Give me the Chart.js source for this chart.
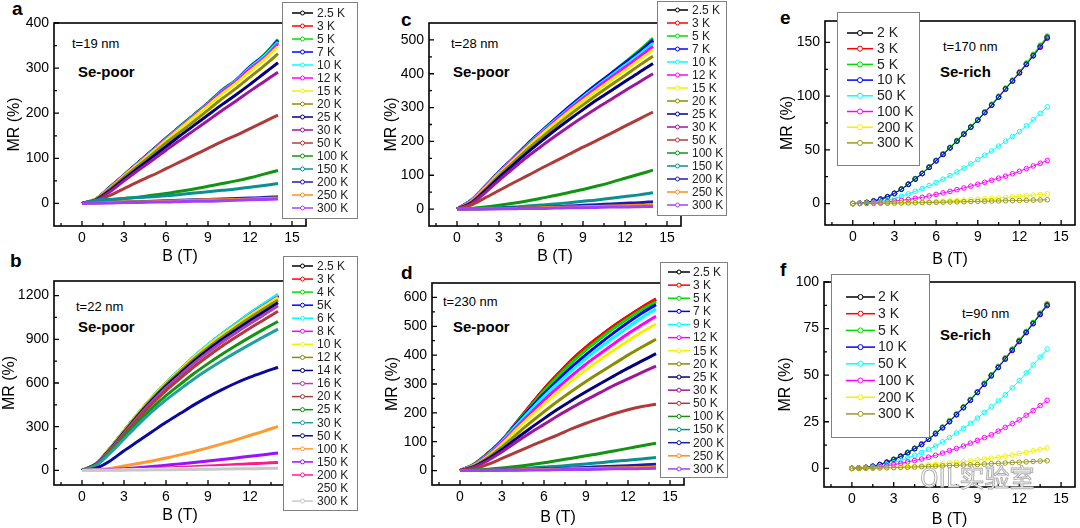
<!DOCTYPE html>
<html><head><meta charset="utf-8">
<script src="https://cdn.jsdelivr.net/npm/chart.js@4.4.1/dist/chart.umd.min.js"></script>
<style>
html,body{margin:0;padding:0;background:#fff;}
body{width:1080px;height:528px;overflow:hidden;position:relative;font-family:'Liberation Sans',Arial,sans-serif;}
canvas{position:absolute;}
.tx{position:absolute;line-height:1;transform:translateY(-50%);white-space:nowrap;color:#000;}
.lt{font-size:19px;font-weight:bold;}
.tn{font-size:13px;}
.se{font-size:15px;font-weight:bold;}
.wm{font-size:25px;color:#fff;-webkit-text-stroke:1px #b0b0b0;font-family:'Noto Sans CJK SC','Liberation Sans',sans-serif;}
</style></head><body>
<div class="tx lt" style="left:12px;top:8px">a</div>
<div class="tx lt" style="left:10px;top:260px">b</div>
<div class="tx lt" style="left:401px;top:19px">c</div>
<div class="tx lt" style="left:401px;top:272px">d</div>
<div class="tx lt" style="left:780px;top:17px">e</div>
<div class="tx lt" style="left:780px;top:269px">f</div>
<div class="tx tn" style="left:72px;top:43px">t=19 nm</div>
<div class="tx se" style="left:78px;top:71px">Se-poor</div>
<div class="tx tn" style="left:76px;top:306px">t=22 nm</div>
<div class="tx se" style="left:78px;top:326px">Se-poor</div>
<div class="tx tn" style="left:451px;top:43px">t=28 nm</div>
<div class="tx se" style="left:453px;top:71px">Se-poor</div>
<div class="tx tn" style="left:443px;top:301px">t=230 nm</div>
<div class="tx se" style="left:453px;top:326px">Se-poor</div>
<div class="tx tn" style="left:943px;top:46px">t=170 nm</div>
<div class="tx se" style="left:940px;top:71px">Se-rich</div>
<div class="tx tn" style="left:962px;top:313px">t=90 nm</div>
<div class="tx se" style="left:940px;top:334px">Se-rich</div>
<script>
// ---------- field values (T) ----------
const fieldAD = [0,1,2,3,4,5,6,7,8,9,10,11,12,13,14];
const fieldEF = [0,0.5,1,1.5,2,2.5,3,3.5,4,4.5,5,5.5,6,6.5,7,7.5,8,8.5,9,9.5,10,10.5,11,11.5,12,12.5,13,13.5,14];

// ---------- tick values ----------
const xTicks = [0,3,6,9,12,15];
const xMinor = [-1.5,1.5,4.5,7.5,10.5,13.5];
const yTicksA = [0,100,200,300,400];       const yMinorA = [50,150,250,350];
const yTicksB = [0,300,600,900,1200];      const yMinorB = [150,450,750,1050];
const yTicksC = [0,100,200,300,400,500];   const yMinorC = [50,150,250,350,450];
const yTicksD = [0,100,200,300,400,500,600]; const yMinorD = [50,150,250,350,450,550];
const yTicksE = [0,50,100,150];            const yMinorE = [25,75,125];
const yTicksF = [0,25,50,75,100];          const yMinorF = [12.5,37.5,62.5,87.5];

// ---------- panel a : t=19 nm ----------
const labelsA = ['2.5 K','3 K','5 K','7 K','10 K','12 K','15 K','20 K','25 K','30 K','50 K','100 K','150 K','200 K','250 K','300 K'];
const a_2p5K = [0,10,36,63,90,117,144,170,196,222,250,272,302,328,362];
const a_3K   = [0,10,35,62,89,116,143,169,195,221,248,271,300,325,358];
const a_5K   = [0,10,36,63,90,117,144,171,197,223,251,274,304,329,364];
const a_7K   = [0,10,36,63,90,117,144,170,196,222,250,273,303,328,361];
const a_10K  = [0,10,35,62,89,116,143,169,195,221,249,272,301,326,358];
const a_12K  = [0,10,35,62,88,115,142,168,194,220,247,270,298,322,354];
const a_15K  = [0,10,34,61,87,113,140,166,191,217,243,266,293,318,348];
const a_20K  = [0,9,32,58,83,108,134,158,182,207,232,255,280,305,332];
const a_25K  = [0,8,29,54,78,102,126,150,173,196,219,241,264,288,312];
const a_30K  = [0,7,26,50,73,95,118,140,162,184,206,227,249,270,291];
const a_50K  = [0,5,18,33,48,62,77,92,107,122,137,151,166,181,196];
const a_100K = [0,5,8,11,14,18,22,27,32,38,44,50,57,65,73];
const a_150K = [0,7,9,11,13,15,17,20,23,26,29,32,36,40,44];
const a_200K = [0,1,2,3,4,5,6,7,8,9,10,11,12,13,15];
const a_250K = [0,1,2,3,3,4,5,6,7,8,8,9,10,11,12];
const a_300K = [0,1,1,2,2,3,3,4,5,5,6,7,8,9,10];
const seriesA = [a_2p5K,a_3K,a_5K,a_7K,a_10K,a_12K,a_15K,a_20K,a_25K,a_30K,a_50K,a_100K,a_150K,a_200K,a_250K,a_300K];

// ---------- panel b : t=22 nm ----------
const labelsB = ['2.5 K','3 K','4 K','5K','6 K','8 K','10 K','12 K','14 K','16 K','20 K','25 K','30 K','50 K','100 K','150 K','200 K','250 K','300 K'];
const b_2p5K = [0,45,150,270,388,498,598,688,778,858,933,1003,1072,1138,1200];
const b_3K   = [0,44,148,268,386,495,595,685,775,855,930,1000,1068,1133,1195];
const b_4K   = [0,46,151,271,390,500,601,691,781,862,937,1008,1078,1143,1207];
const b_5K   = [0,45,150,270,389,499,600,690,780,861,936,1006,1076,1140,1202];
const b_6K   = [0,46,151,271,390,501,601,692,782,863,938,1008,1078,1144,1208];
const b_8K   = [0,45,149,268,386,496,596,686,775,855,929,998,1066,1130,1192];
const b_10K  = [0,46,152,272,391,500,600,689,777,856,929,997,1063,1125,1186];
const b_12K  = [0,44,148,266,383,491,590,678,765,843,915,982,1047,1109,1170];
const b_14K  = [0,42,144,260,375,481,578,665,750,827,898,964,1028,1089,1150];
const b_16K  = [0,40,140,254,367,471,566,651,735,810,880,945,1008,1068,1130];
const b_20K  = [0,38,134,245,355,456,548,630,711,784,852,915,976,1034,1092];
const b_25K  = [0,36,126,230,333,428,513,590,665,733,797,857,915,970,1022];
const b_30K  = [0,33,118,216,313,403,484,557,628,692,753,810,865,918,970];
const b_50K  = [0,15,65,135,200,265,330,390,450,505,555,600,640,675,708];
const b_100K = [0,4,14,30,47,65,85,107,130,155,182,210,240,270,302];
const b_150K = [0,2,6,12,19,27,36,45,55,65,75,86,97,108,120];
const b_200K = [0,1,3,6,9,13,17,21,25,30,35,40,45,50,55];
const b_250K = [0,1,2,4,6,8,10,13,15,18,20,23,25,28,30];
const b_300K = [0,1,1,2,3,4,5,6,7,8,9,11,12,13,15];
const seriesB = [b_2p5K,b_3K,b_4K,b_5K,b_6K,b_8K,b_10K,b_12K,b_14K,b_16K,b_20K,b_25K,b_30K,b_50K,b_100K,b_150K,b_200K,b_250K,b_300K];

// ---------- panel c : t=28 nm ----------
const labelsC = ['2.5 K','3 K','5 K','7 K','10 K','12 K','15 K','20 K','25 K','30 K','50 K','100 K','150 K','200 K','250 K','300 K'];
const c_2p5K = [0,25,65,108,148,189,227,264,300,334,367,398,430,462,498];
const c_3K   = [0,24,64,107,147,188,226,263,298,332,365,396,427,458,494];
const c_5K   = [0,25,66,109,150,191,229,266,302,337,370,401,434,468,505];
const c_7K   = [0,26,67,110,150,191,229,266,302,336,369,400,432,464,500];
const c_10K  = [0,25,65,108,148,188,226,262,297,331,363,394,425,456,490];
const c_12K  = [0,24,64,106,146,186,223,259,294,327,359,389,419,449,481];
const c_15K  = [0,22,62,104,143,182,219,254,288,320,351,381,410,440,470];
const c_20K  = [0,20,58,99,137,175,210,244,277,308,338,367,395,424,452];
const c_25K  = [0,18,54,93,130,166,200,233,264,294,323,350,377,404,430];
const c_30K  = [0,15,48,85,120,154,185,215,244,272,299,324,350,375,400];
const c_50K  = [0,12,33,55,77,98,120,141,162,183,203,224,245,266,287];
const c_100K = [0,2,6,11,17,24,32,40,49,58,68,79,91,103,115];
const c_150K = [0,1,2,4,6,9,12,15,19,23,27,32,37,42,48];
const c_200K = [0,0,1,2,3,4,5,7,9,11,13,15,17,19,22];
const c_250K = [0,0,1,1,2,3,4,5,6,7,8,9,10,11,12];
const c_300K = [0,0,0,1,1,2,2,3,4,4,5,6,6,7,8];
const seriesC = [c_2p5K,c_3K,c_5K,c_7K,c_10K,c_12K,c_15K,c_20K,c_25K,c_30K,c_50K,c_100K,c_150K,c_200K,c_250K,c_300K];

// ---------- panel d : t=230 nm ----------
const labelsD = ['2.5 K','3 K','5 K','7 K','9 K','12 K','15 K','20 K','25 K','30 K','50 K','100 K','150 K','200 K','250 K','300 K'];
const d_2p5K = [0,22,60,105,164,224,282,334,384,427,465,501,534,564,592];
const d_3K   = [0,22,60,105,165,225,283,335,385,428,466,502,535,566,595];
const d_5K   = [0,22,59,104,163,219,276,327,375,418,457,493,527,558,585];
const d_7K   = [0,21,58,103,160,214,266,314,360,402,441,478,513,546,575];
const d_9K   = [0,20,56,101,155,207,257,303,347,388,426,462,497,530,560];
const d_12K  = [0,19,53,97,148,197,244,288,330,369,405,440,474,505,535];
const d_15K  = [0,18,50,92,140,186,230,272,312,349,384,418,450,480,508];
const d_20K  = [0,16,45,82,124,165,204,241,276,309,340,370,400,428,455];
const d_25K  = [0,14,40,73,110,146,180,213,244,273,301,328,355,380,405];
const d_30K  = [0,12,35,65,98,130,160,190,218,245,270,295,318,340,362];
const d_50K  = [0,6,22,42,63,84,104,124,145,164,181,197,211,222,230];
const d_100K = [0,2,5,9,14,20,27,35,43,51,59,68,77,86,95];
const d_150K = [0,1,2,4,6,9,12,15,19,23,27,32,36,40,45];
const d_200K = [0,0,1,2,3,4,6,7,9,11,13,15,17,19,22];
const d_250K = [0,0,1,1,2,3,4,5,6,7,8,9,10,11,12];
const d_300K = [0,0,0,1,1,2,2,3,4,4,5,6,6,7,8];
const seriesD = [d_2p5K,d_3K,d_5K,d_7K,d_9K,d_12K,d_15K,d_20K,d_25K,d_30K,d_50K,d_100K,d_150K,d_200K,d_250K,d_300K];

// ---------- panel e : t=170 nm ----------
const labelsE = ['2 K','3 K','5 K','10 K','50 K','100 K','200 K','300 K'];
const e_2K   = [0,0.2,1,2.3,4,6.3,9.5,13.5,18,23,28,34,40,46,52,58.5,65,71.5,78,85,92,99.5,107,114.5,122,130,138,146.5,155];
const e_3K   = [0,0.2,1,2.2,4,6.2,9.4,13.4,18,23,28,33.8,39.8,45.8,52,58.3,64.8,71.3,78,84.8,91.8,99.2,106.8,114.3,122,129.8,137.8,146.3,154.5];
const e_5K   = [0,0.2,1.1,2.4,4.1,6.4,9.6,13.6,18.2,23.2,28.3,34.2,40.3,46.3,52.4,58.8,65.3,71.8,78.4,85.4,92.5,100,107.5,115,122.8,130.8,139,147.5,156];
const e_10K  = [0,0.2,1,2.3,4,6.3,9.4,13.3,17.8,22.8,27.8,33.7,39.7,45.7,51.7,58,64.5,71,77.5,84.5,91.5,99,106.5,114,121.5,129.5,137.5,145.5,154];
const e_50K  = [0,0.1,0.5,1.1,2,3.2,4.6,6.6,9,11.4,14,16.7,19.6,22.7,26,29.4,33,37,41,45,49,53.5,58,62.5,67,72.3,78,84,90];
const e_100K = [0,0.1,0.3,0.6,1,1.6,2.3,3,3.8,4.8,5.8,7.1,8.5,9.9,11.3,12.9,14.5,16.2,18,19.8,21.7,23.6,25.5,27.7,30,32.5,35,37.5,40];
const e_200K = [0,0,0.1,0.2,0.3,0.4,0.6,0.8,1,1.2,1.5,1.7,2,2.2,2.5,2.8,3.2,3.6,4,4.4,4.8,5.2,5.7,6.2,6.7,7.2,7.8,8.4,9];
const e_300K = [0,0,0.1,0.1,0.2,0.3,0.4,0.5,0.6,0.7,0.8,0.9,1.1,1.2,1.4,1.5,1.7,1.8,2,2.1,2.3,2.4,2.6,2.7,2.9,3,3.2,3.3,3.5];
const seriesE = [e_2K,e_3K,e_5K,e_10K,e_50K,e_100K,e_200K,e_300K];

// ---------- panel f : t=90 nm ----------
const labelsF = ['2 K','3 K','5 K','10 K','50 K','100 K','200 K','300 K'];
const f_2K   = [0,0.1,0.5,1.1,2,3.3,4.8,6.5,8.5,10.7,13,15.8,18.8,22,25.3,29,32.8,36.8,41,45.5,50,54.5,59,63.7,68.5,73.2,78,83,88];
const f_3K   = [0,0.1,0.5,1.1,2,3.2,4.7,6.4,8.4,10.6,12.9,15.7,18.7,21.9,25.2,28.9,32.7,36.7,40.9,45.3,49.8,54.3,58.8,63.5,68.3,73,77.8,82.8,87.7];
const f_5K   = [0,0.1,0.5,1.2,2.1,3.4,4.9,6.6,8.6,10.8,13.1,15.9,18.9,22.1,25.5,29.2,33,37,41.2,45.7,50.2,54.7,59.3,64,68.8,73.5,78.3,83.3,88.3];
const f_10K  = [0,0.1,0.5,1.1,2,3.2,4.7,6.4,8.3,10.5,12.8,15.6,18.5,21.7,25,28.7,32.5,36.5,40.7,45.1,49.6,54.1,58.6,63.3,68,72.8,77.6,82.5,87.3];
const f_50K  = [0,0.1,0.3,0.7,1.2,2,3,4.2,5.5,7,8.5,10.2,12,14.2,16.5,19,21.5,24.2,27,30,33,36.2,39.5,43.2,47,51.2,55.5,59.7,64];
const f_100K = [0,0.1,0.2,0.5,0.8,1.4,2,2.7,3.5,4.2,5,6,7,8.2,9.5,10.7,12,13.5,15,16.5,18,20,22,24,26,28.5,31,33.7,36.5];
const f_200K = [0,0,0.1,0.2,0.3,0.4,0.6,0.8,1,1.2,1.5,1.8,2.1,2.4,2.8,3.2,3.6,4,4.5,5,5.5,6,6.6,7.2,7.9,8.6,9.4,10.2,11];
const f_300K = [0,0,0.1,0.1,0.2,0.3,0.4,0.5,0.6,0.7,0.9,1,1.2,1.3,1.5,1.6,1.8,1.9,2.1,2.3,2.5,2.7,2.9,3.1,3.3,3.5,3.7,3.9,4.1];
const seriesF = [f_2K,f_3K,f_5K,f_10K,f_50K,f_100K,f_200K,f_300K];

// ---------- colours (Origin palette) ----------
const colors16 = ['#000000','#ff0000','#00dd00','#0000ff','#00ffff','#ff00ff','#f2f200','#8c8c00','#000080','#a0169a','#b03a3a','#129412','#0a9090','#1c1cb0','#ff8c1a','#a040ff'];
const colors19 = ['#000000','#ff0000','#00dd00','#0000ff','#00ffff','#ff00ff','#f2f200','#8c8c00','#000080','#b040b0','#b03a3a','#129412','#20a0a0','#0a0aa0','#ff9a30','#9a10ff','#ff1a8c','#ffffff','#c8c8c8'];
const colors8  = ['#000000','#ff0000','#00dd00','#0000ff','#00ffff','#ff00ff','#f2f200','#9a9a20'];

const FONT = "'Liberation Sans', Arial, sans-serif";
Chart.defaults.font.family = FONT;
Chart.defaults.color = '#000';

function makePanel(p) {
  const cv = document.createElement('canvas');
  cv.width = p.w; cv.height = p.h;
  cv.style.left = p.x + 'px'; cv.style.top = p.y + 'px';
  cv.style.width = p.w + 'px'; cv.style.height = p.h + 'px';
  document.body.appendChild(cv);
  const datasets = p.series.map((s, i) => {
    const ds = {
      label: p.labels[i],
      data: s.map((v, j) => ({x: p.field[j], y: v})),
      borderColor: p.colors[i],
      backgroundColor: p.colors[i],
      showLine: true,
      order: -i
    };
    if (p.markers) {
      Object.assign(ds, {borderWidth: 1, pointRadius: 2.3, pointBorderWidth: 1, pointBackgroundColor: 'rgba(255,255,255,0)', pointBorderColor: p.colors[i], tension: 0});
    } else {
      Object.assign(ds, {borderWidth: 3, pointRadius: 0, cubicInterpolationMode: 'monotone'});
    }
    return ds;
  });
  const framePlugin = {
    id: 'frameLegend',
    afterDatasetsDraw(chart) {
      const {ctx, chartArea: a, scales: {x, y}} = chart;
      ctx.save();
      ctx.strokeStyle = '#000'; ctx.lineWidth = 1.6;
      ctx.strokeRect(a.left, a.top, a.right - a.left, a.bottom - a.top);
      ctx.beginPath();
      p.xTicks.forEach(v => { const px = x.getPixelForValue(v); ctx.moveTo(px, a.bottom); ctx.lineTo(px, a.bottom - 5); });
      p.xMinor.forEach(v => { const px = x.getPixelForValue(v); ctx.moveTo(px, a.bottom); ctx.lineTo(px, a.bottom - 3); });
      p.yTicks.forEach(v => { const py = y.getPixelForValue(v); ctx.moveTo(a.left, py); ctx.lineTo(a.left + 5, py); });
      p.yMinor.forEach(v => { const py = y.getPixelForValue(v); ctx.moveTo(a.left, py); ctx.lineTo(a.left + 3, py); });
      ctx.lineWidth = 1.3; ctx.stroke();
      ctx.restore();
    },
    afterDraw(chart) {
      const L = p.legend, ctx = chart.ctx, ox = p.x, oy = p.y;
      ctx.save();
      ctx.fillStyle = '#fff';
      ctx.fillRect(L.x1 - ox, L.y1 - oy, L.x2 - L.x1, L.y2 - L.y1);
      ctx.strokeStyle = '#808080'; ctx.lineWidth = 1;
      ctx.strokeRect(L.x1 - ox + 0.5, L.y1 - oy + 0.5, L.x2 - L.x1, L.y2 - L.y1);
      ctx.font = L.fs + 'px ' + FONT;
      ctx.textBaseline = 'middle'; ctx.textAlign = 'left';
      chart.data.datasets.forEach((ds, i) => {
        const yy = L.y0 + i * L.dy - oy;
        ctx.strokeStyle = ds.borderColor; ctx.lineWidth = 1.5;
        ctx.beginPath(); ctx.moveTo(L.s1 - ox, yy); ctx.lineTo(L.s2 - ox, yy); ctx.stroke();
        ctx.beginPath(); ctx.arc((L.s1 + L.s2) / 2 - ox, yy, L.r, 0, Math.PI * 2);
        ctx.fillStyle = '#fff'; ctx.fill(); ctx.lineWidth = 1; ctx.stroke();
        ctx.fillStyle = '#222'; ctx.fillText(ds.label, L.tx - ox, yy + 0.5);
      });
      ctx.restore();
    }
  };
  new Chart(cv, {
    type: 'scatter',
    data: {datasets},
    options: {
      responsive: false, animation: false, devicePixelRatio: 1,
      layout: {padding: {left: 0, top: p.area.t, right: p.w - p.area.r, bottom: 0}},
      plugins: {legend: {display: false}, tooltip: {enabled: false}},
      scales: {
        x: {
          type: 'linear', min: -2, max: 16,
          afterBuildTicks: s => { s.ticks = p.xTicks.map(v => ({value: v})); },
          afterFit: s => { s.height = p.h - p.area.b; },
          grid: {display: false, drawTicks: false}, border: {display: false},
          ticks: {font: {size: 14}, color: '#000', padding: 4, maxRotation: 0, autoSkip: false, callback: v => String(v)},
          title: {display: true, text: 'B (T)', color: '#000', font: {size: 16, lineHeight: 1}, padding: {top: 0, bottom: p.xtPad}}
        },
        y: {
          type: 'linear', min: p.ymin, max: p.ymax,
          afterBuildTicks: s => { s.ticks = p.yTicks.map(v => ({value: v})); },
          afterFit: s => { s.width = p.area.l; },
          grid: {display: false, drawTicks: false}, border: {display: false},
          ticks: {font: {size: 14}, color: '#000', padding: 5, autoSkip: false, callback: v => String(v)},
          title: {display: true, text: 'MR (%)', color: '#000', font: {size: 16, lineHeight: 1}, padding: {top: p.ytPad, bottom: 0}}
        }
      }
    },
    plugins: [framePlugin]
  });
}

makePanel({x:0, y:0, w:360, h:270, area:{l:54,t:23,r:306,b:226}, ymin:-50, ymax:400,
  yTicks:yTicksA, yMinor:yMinorA, xTicks, xMinor, ytPad:7, xtPad:5,
  field:fieldAD, series:seriesA, labels:labelsA, colors:colors16,
  legend:{x1:282,y1:2,x2:357,y2:218,y0:13,dy:13,s1:292,s2:313,tx:317,fs:12,r:2}});
makePanel({x:0, y:250, w:360, h:278, area:{l:54,t:31,r:306,b:235}, ymin:-100, ymax:1300,
  yTicks:yTicksB, yMinor:yMinorB, xTicks, xMinor, ytPad:2, xtPad:4,
  field:fieldAD, series:seriesB, labels:labelsB, colors:colors19,
  legend:{x1:283,y1:256,x2:357,y2:510,y0:266,dy:13.06,s1:292,s2:313,tx:317,fs:12,r:2}});
makePanel({x:360, y:0, w:370, h:270, area:{l:69,t:23,r:321,b:226}, ymin:-50, ymax:550,
  yTicks:yTicksC, yMinor:yMinorC, xTicks, xMinor, ytPad:24, xtPad:5,
  field:fieldAD, series:seriesC, labels:labelsC, colors:colors16,
  legend:{x1:657,y1:1,x2:726,y2:215,y0:10,dy:13,s1:667,s2:688,tx:692,fs:12,r:2}});
makePanel({x:360, y:255, w:370, h:273, area:{l:72,t:28,r:324,b:230}, ymin:-50, ymax:650,
  yTicks:yTicksD, yMinor:yMinorD, xTicks, xMinor, ytPad:25, xtPad:2,
  field:fieldAD, series:seriesD, labels:labelsD, colors:colors16,
  legend:{x1:660,y1:262,x2:727,y2:477,y0:272,dy:13.13,s1:668,s2:690,tx:693,fs:12,r:2}});
makePanel({x:720, y:0, w:360, h:270, area:{l:105,t:21,r:358,b:225}, ymin:-20, ymax:170,
  yTicks:yTicksE, yMinor:yMinorE, xTicks, xMinor, ytPad:60, xtPad:2, markers:true,
  field:fieldEF, series:seriesE, labels:labelsE, colors:colors8,
  legend:{x1:837,y1:12,x2:919,y2:165,y0:33,dy:15.7,s1:847,s2:873,tx:877,fs:14,r:2.5}});
makePanel({x:720, y:264, w:360, h:264, area:{l:104,t:18,r:358,b:223}, ymin:-10, ymax:100,
  yTicks:yTicksF, yMinor:yMinorF, xTicks, xMinor, ytPad:58, xtPad:0, markers:true,
  field:fieldEF, series:seriesF, labels:labelsF, colors:colors8,
  legend:{x1:831,y1:274,x2:929,y2:437,y0:297,dy:16.7,s1:846,s2:875,tx:878,fs:14,r:2.5}});
</script>
<div class="tx wm" style="left:920px;top:476px;z-index:5">OIL实验室</div>
</body></html>
